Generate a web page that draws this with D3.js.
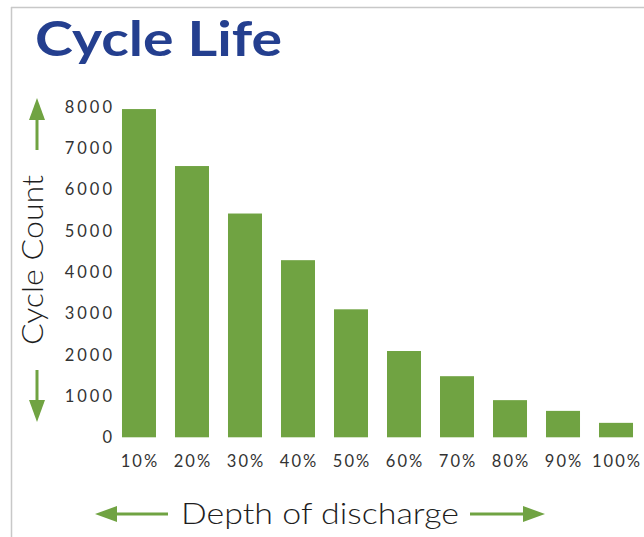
<!DOCTYPE html>
<html>
<head>
<meta charset="utf-8">
<script src="https://cdn.jsdelivr.net/npm/d3@7"></script>
<style>
  body { margin: 0; background: #fff; }
  svg { display: block; font-family: Lato, "Open Sans", sans-serif; }
</style>
</head>
<body>
<div id="chart"></div>
<script>
// DATA
const categories = ["10%", "20%", "30%", "40%", "50%", "60%", "70%", "80%", "90%", "100%"];
const cycleCounts = [7950, 6570, 5420, 4290, 3100, 2090, 1480, 900, 640, 350];
const yTicks = [0, 1000, 2000, 3000, 4000, 5000, 6000, 7000, 8000];

const WIDTH = 644, HEIGHT = 537;
const GREEN = "#70a342";

const svg = d3.select("#chart").append("svg")
  .attr("width", WIDTH)
  .attr("height", HEIGHT);

// frame lines (top + left)
svg.append("line").attr("x1", 11).attr("x2", WIDTH).attr("y1", 7.5).attr("y2", 7.5)
  .attr("stroke", "#c8c8c8").attr("stroke-width", 1.5);
svg.append("line").attr("x1", 11.5).attr("x2", 11.5).attr("y1", 7).attr("y2", HEIGHT)
  .attr("stroke", "#c8c8c8").attr("stroke-width", 1.5);

// TITLE
svg.append("text")
  .attr("x", 35).attr("y", 56)
  .attr("font-size", 48)
  .attr("font-weight", 700)
  .attr("fill", "#243f8f")
  .attr("textLength", 247)
  .attr("lengthAdjust", "spacingAndGlyphs")
  .text("Cycle Life");

// SCALES
const xScale = d3.scaleBand()
  .domain(categories)
  .range([112.5, 642.5])
  .paddingInner(0.3585)
  .paddingOuter(0.179);

const yScale = d3.scaleLinear().domain([0, 8000]).range([437.3, 107]);

// BARS
svg.selectAll("rect.bar")
  .data(categories)
  .enter()
  .append("rect")
  .attr("class", "bar")
  .attr("x", d => xScale(d))
  .attr("width", xScale.bandwidth())
  .attr("y", (d, i) => yScale(cycleCounts[i]))
  .attr("height", (d, i) => yScale(0) - yScale(cycleCounts[i]))
  .attr("fill", GREEN);

// AXES
const yAxis = svg.append("g")
  .attr("transform", "translate(112, 0)")
  .call(d3.axisLeft(yScale).tickValues(yTicks).tickSize(0).tickPadding(0).tickFormat(d3.format("d")));
yAxis.select(".domain").remove();
yAxis.selectAll("text")
  .attr("font-family", "Lato, sans-serif")
  .attr("font-size", 16.5)
  .attr("letter-spacing", 3)
  .attr("dx", 3)
  .attr("fill", "#333");

const xAxis = svg.append("g")
  .attr("transform", "translate(0, 437)")
  .call(d3.axisBottom(xScale).tickSize(0).tickPadding(18));
xAxis.select(".domain").remove();
xAxis.selectAll("text")
  .attr("font-family", "Lato, sans-serif")
  .attr("font-size", 16.5)
  .attr("letter-spacing", 2)
  .attr("dx", 1)
  .attr("fill", "#333");

// AXIS TITLES
svg.append("text")
  .attr("transform", "translate(43, 260) rotate(-90)")
  .attr("text-anchor", "middle")
  .attr("font-size", 30)
  .attr("font-weight", 300)
  .attr("fill", "#1e1e1e")
  .attr("textLength", 170)
  .attr("lengthAdjust", "spacingAndGlyphs")
  .text("Cycle Count");

svg.append("text")
  .attr("x", 320).attr("y", 524)
  .attr("text-anchor", "middle")
  .attr("font-size", 30)
  .attr("font-weight", 300)
  .attr("fill", "#1e1e1e")
  .attr("textLength", 278)
  .attr("lengthAdjust", "spacingAndGlyphs")
  .text("Depth of discharge");

// ARROWS
function arrow(x1, y1, x2, y2) {
  const ang = Math.atan2(y2 - y1, x2 - x1);
  const len = 22, half = 8;
  const bx = x2 - len * Math.cos(ang), by = y2 - len * Math.sin(ang);
  svg.append("line")
    .attr("x1", x1).attr("y1", y1).attr("x2", bx).attr("y2", by)
    .attr("stroke", GREEN).attr("stroke-width", 3);
  svg.append("path")
    .attr("d", `M${x2},${y2} L${bx - half * Math.sin(ang)},${by + half * Math.cos(ang)} L${bx + half * Math.sin(ang)},${by - half * Math.cos(ang)} Z`)
    .attr("fill", GREEN);
}
arrow(37, 150, 37, 98);
arrow(37, 370, 37, 422);
arrow(168, 514, 95, 514);
arrow(470, 514, 545, 514);
</script>
</body>
</html>
